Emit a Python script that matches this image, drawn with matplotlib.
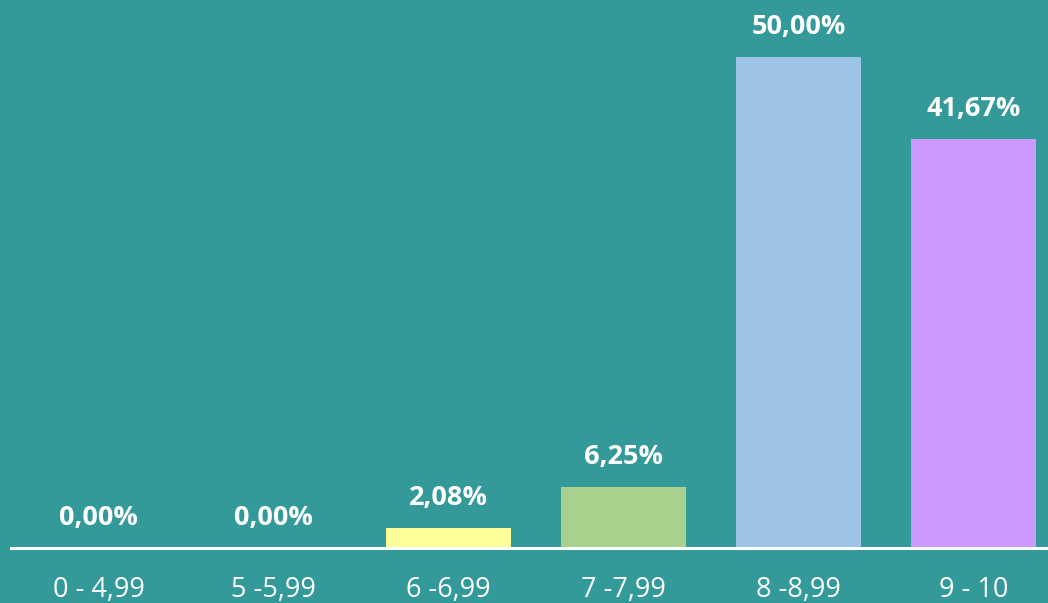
import matplotlib
matplotlib.use("Agg")
import matplotlib.pyplot as plt

categories = ["0 - 4,99", "5 -5,99", "6 -6,99", "7 -7,99", "8 -8,99", "9 - 10"]
values = [0.0, 0.0, 2.08, 6.25, 50.00, 41.67]
labels = ["0,00%", "0,00%", "2,08%", "6,25%", "50,00%", "41,67%"]
colors = ["#FFFF99", "#FFFF99", "#FFFF99", "#A9D18E", "#9DC3E6", "#CC99FF"]

bg = "#339999"
W, H = 1048, 603
fig = plt.figure(figsize=(W / 100, H / 100), dpi=100, facecolor=bg)
left = 11 / W
width = 1050 / W
bottom = (H - 548) / H
height = 548 / H
ax = fig.add_axes([left, bottom, width, height], facecolor=bg)

x = list(range(len(categories)))
ax.bar(x, values, width=0.714, color=colors, zorder=2)
ax.set_xlim(-0.5, len(categories) - 0.5)
ax.set_ylim(0, 548 / (491 / 50))

for xi, v, lab in zip(x, values, labels):
    ax.annotate(lab, (xi, v), xytext=(0, 12), textcoords="offset points",
                ha="center", va="bottom", color="white", fontsize=19.5,
                fontweight="bold", family="Open Sans")

for s in ["top", "right", "left"]:
    ax.spines[s].set_visible(False)
ax.spines["bottom"].set_color("white")
ax.spines["bottom"].set_linewidth(2.2)
ax.spines["bottom"].set_zorder(3)
ax.set_yticks([])
ax.set_xticks(x)
ax.set_xticklabels(categories, color="white", fontsize=19.5, family="Open Sans")
ax.tick_params(axis="x", length=0, pad=20)

fig.savefig("out.png", dpi=100, facecolor=bg)
